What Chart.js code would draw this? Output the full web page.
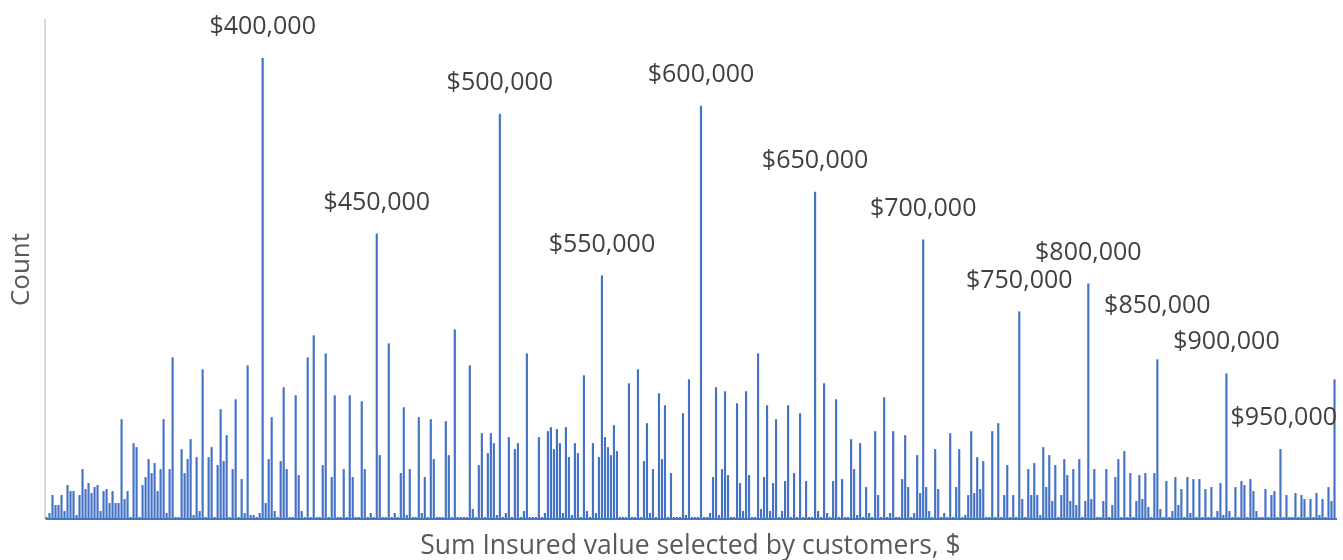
<!DOCTYPE html>
<html>
<head>
<meta charset="utf-8">
<script src="https://cdn.jsdelivr.net/npm/chart.js@4/dist/chart.umd.min.js"></script>
<style>
body{margin:0;background:#fff}
#wrap{width:1343px;height:560px;position:relative}
</style>
</head>
<body>
<div id="wrap"><canvas id="sumChart"></canvas></div>
<script>

// count of customers per distinct sum insured value (ordered by value)
const counts = [
1,3,12,7,7,12,4,17,14,14,2,12,25,15,18,13,16,17,4,14,15,8,14,8,8,50,10,14,1,38,
36,1,17,21,30,23,28,14,25,50,3,25,81,1,1,35,23,30,40,2,31,4,75,1,31,36,1,27,55,29,
42,1,25,60,1,20,3,77,2,2,1,3,231,8,30,51,4,1,29,66,25,1,1,62,22,4,1,81,1,92,
1,1,27,83,1,21,62,1,1,25,1,62,21,1,1,59,25,1,3,1,143,32,1,1,88,1,3,1,23,56,
2,25,1,1,51,3,21,1,50,30,1,1,1,49,32,1,95,1,1,1,1,77,5,1,27,43,1,33,43,38,
2,203,1,3,41,1,35,38,1,4,83,1,1,1,41,1,3,44,46,35,45,38,3,46,31,2,38,33,1,72,
4,1,38,3,31,122,41,36,32,47,34,1,1,1,68,1,1,75,1,29,48,3,25,1,63,30,57,1,23,1,
1,1,53,2,70,1,1,1,207,1,1,3,21,66,2,25,64,22,1,1,58,18,4,64,22,1,1,83,5,21,
57,4,18,50,1,4,19,57,1,23,1,53,1,19,1,1,164,4,1,68,3,1,19,60,1,20,1,1,40,25,
2,38,1,16,3,1,44,12,1,61,1,3,44,1,1,20,42,16,1,3,32,13,140,16,4,1,35,15,1,3,
1,43,1,16,35,1,2,12,44,13,31,15,29,1,1,44,1,48,1,12,27,1,12,1,104,10,1,25,12,28,
12,2,36,16,32,9,27,1,12,30,22,9,25,7,30,1,9,118,10,25,1,1,9,25,1,7,21,30,1,34,
1,23,1,9,22,10,23,6,1,23,80,5,1,19,1,4,21,7,15,1,21,3,20,1,20,1,15,1,16,1,
4,18,2,73,4,1,16,1,19,17,1,20,14,4,1,1,15,1,12,14,1,35,1,12,1,1,13,1,12,10,
1,10,1,13,2,10,1,16,9,70
]

// labelled round values and where they sit in the list above
const peakValues = ["$400,000","$450,000","$500,000","$550,000","$600,000","$650,000",
"$700,000","$750,000","$800,000","$850,000","$900,000","$950,000"]
const peakIndex = [72,110,151,185,218,256,292,324,347,370,393,429]

let labels = counts.map((c,i)=>{
let k = peakIndex.indexOf(i)
return k>=0 ? peakValues[k] : ""
})

const peakLabels = {
id:"peakLabels",
afterDatasetsDraw(chart,args,opts){
let ctx = chart.ctx
let bars = chart.getDatasetMeta(0).data
ctx.save()
ctx.font = "25px 'Open Sans'"
ctx.fillStyle = "#404040"
ctx.textAlign = "center"
ctx.textBaseline = "middle"
peakIndex.forEach((idx,k)=>{
let b = bars[idx]
let txt = peakValues[k]
let w = ctx.measureText(txt).width
let x = b.x
let y = b.y - 31 + (opts.lift[txt] || 0)
if(x + w/2 > chart.width - 4){
x = chart.width - 6 - w/2
y = b.y + 39
}
ctx.fillText(txt,x,y)
})
ctx.restore()
}
}

new Chart(document.getElementById("sumChart"),{

type:"bar",

data:{
labels:labels,
datasets:[{
label:"Count",
data:counts,
backgroundColor:"#4472c4",
categoryPercentage:1,
barPercentage:0.72
}]
},

options:{
responsive:true,
maintainAspectRatio:false,
animation:false,
layout:{padding:{top:20,right:7,bottom:0,left:0}},
plugins:{
legend:{display:false},
tooltip:{enabled:false},
peakLabels:{lift:{"$850,000":-22}}
},
scales:{
x:{
grid:{display:false,drawTicks:false},
border:{color:"#4a74c4",width:2},
ticks:{display:false},
title:{display:true,text:"Sum Insured value selected by customers, $",color:"#595959",
font:{family:"Open Sans",size:26.5},padding:{top:0,bottom:-2}},
afterFit:s=>{s.height = 41}
},
y:{
min:0,
max:250,
grid:{display:false,drawTicks:false},
border:{color:"#d9d9d9",width:2},
ticks:{display:false},
title:{display:true,text:"Count",color:"#595959",
font:{family:"Open Sans",size:26},padding:{top:6,bottom:0}},
afterFit:s=>{s.width = 45}
}
}
},

plugins:[peakLabels]

})

</script>
</body>
</html>
